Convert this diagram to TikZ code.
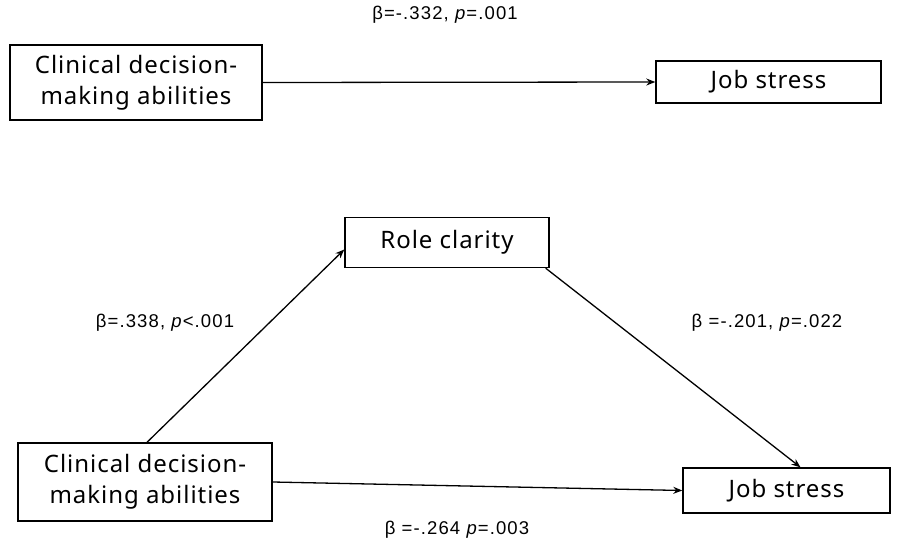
\documentclass[tikz,border=0pt]{standalone}
\usepackage{fontspec}
\setmainfont{Liberation Sans}
\newfontfamily\boxfont{Noto Sans}[LetterSpace=4]
\newfontfamily\labfont{Liberation Sans}[LetterSpace=6]
\usetikzlibrary{arrows.meta}
\tikzset{
  varbox/.style={draw, line width=1.4pt, align=center, inner sep=0pt,
    font=\boxfont\fontsize{24}{31}\selectfont},
  coef/.style={font=\labfont\fontsize{18.5}{22}\selectfont},
  path/.style={->, line width=1.3pt}
}
\begin{document}
\begin{tikzpicture}[>={Stealth[length=9pt,width=7pt]}, x=1pt, y=-1pt]
\useasboundingbox (0,0) rectangle (914,546);
% total effect
\node[varbox, minimum width=252pt, minimum height=75pt] (cdmA) at (136,82.5) {Clinical decision-\\making abilities};
\node[varbox, minimum width=225pt, minimum height=42pt] (jobA) at (768.5,82) {Job stress};
\draw[path] (cdmA.east) -- (jobA.west);
\node[coef] (cA) at (445,15) {β=-.332, \textit{p}=.001};
% mediation model
\node[varbox, minimum width=204pt, minimum height=50pt] (role) at (447,242.5) {Role clarity};
\node[varbox, minimum width=254pt, minimum height=78pt] (cdmB) at (145,482) {Clinical decision-\\making abilities};
\node[varbox, minimum width=207pt, minimum height=45pt] (jobB) at (786.5,490.5) {Job stress};
\draw[path] ([xshift=2pt]cdmB.north) -- ([yshift=-7pt]role.west);
\draw[path] ([xshift=-4pt]role.south east) -- ([xshift=14pt]jobB.north);
\draw[path] (cdmB.east) -- (jobB.west);
\node[coef] (ca) at (165,323) {β=.338, \textit{p}<.001};
\node[coef] (cb) at (767,323) {β =-.201, \textit{p}=.022};
\node[coef] (cc) at (457,530) {β =-.264 \textit{p}=.003};
\end{tikzpicture}
\end{document}
